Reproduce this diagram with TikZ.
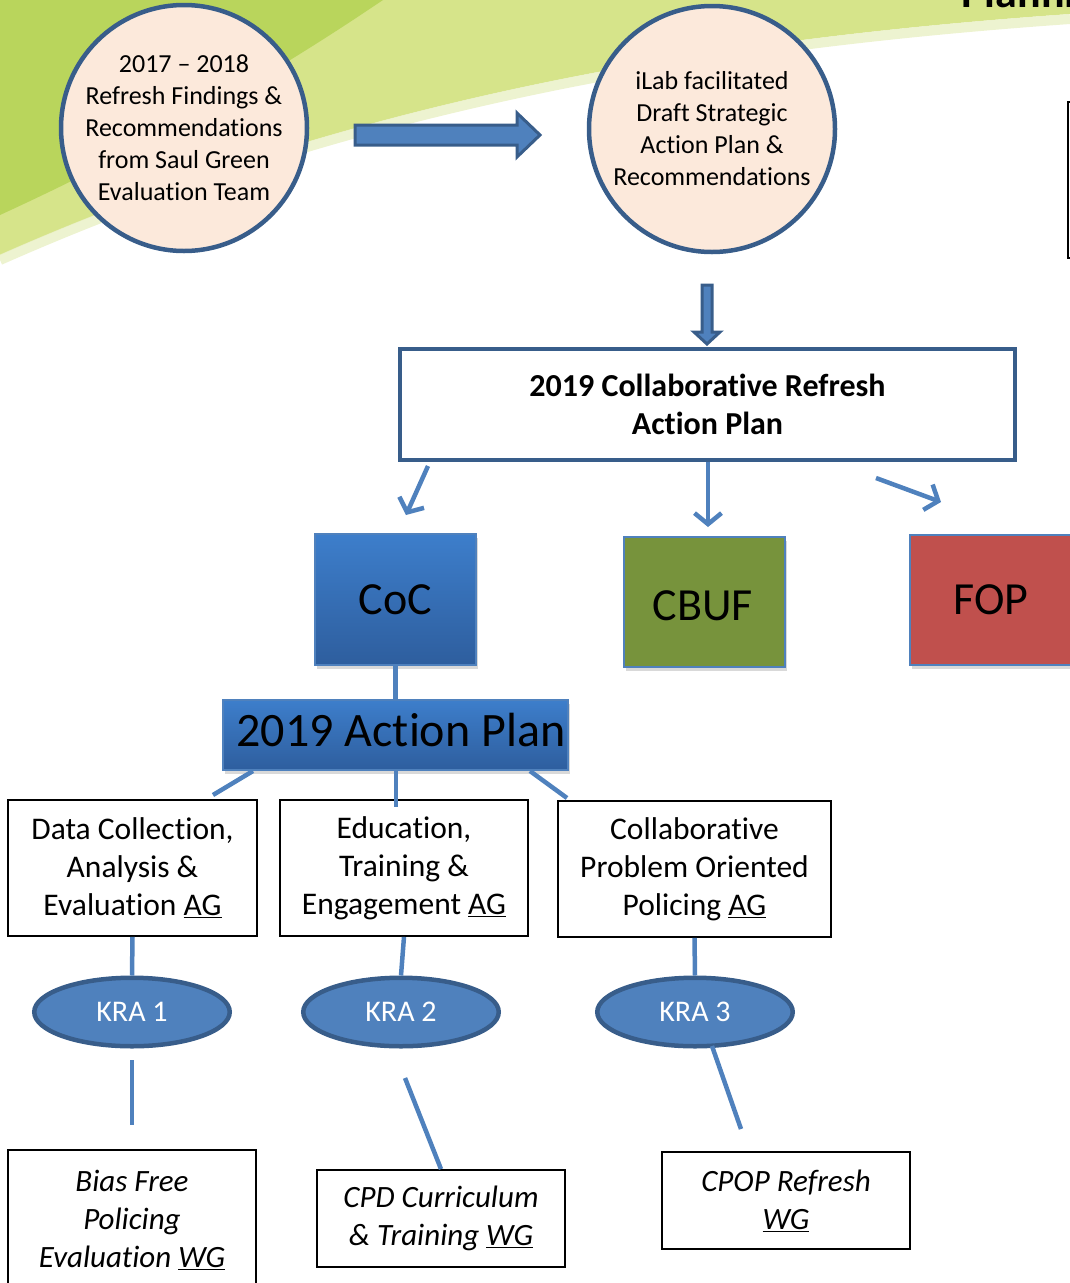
\documentclass[tikz,border=0pt]{standalone}
\usepackage{fontspec}
\setmainfont{Carlito}[Ligatures={TeX,NoCommon}]
\usetikzlibrary{shapes.geometric,arrows.meta,shadows}
\definecolor{dkgreen}{HTML}{B9D55C}
\definecolor{ltgreen}{HTML}{D6E48A}
\definecolor{fadegreen}{HTML}{E9F0C4}
\definecolor{peach}{HTML}{FCE9DB}
\definecolor{edgeblue}{HTML}{385D8A}
\definecolor{midblue}{HTML}{4F81BD}
\definecolor{topblue}{HTML}{3D7ECB}
\definecolor{botblue}{HTML}{2E5E9E}
\definecolor{oliveg}{HTML}{77933C}
\definecolor{brickred}{HTML}{C0504D}
\begin{document}
\begin{tikzpicture}[x=1pt,y=-1pt,
  circ/.style={circle,draw=edgeblue,line width=4.5pt,fill=peach,minimum size=246pt,inner sep=0pt,align=center,font=\fontsize{26}{32}\selectfont},
  blockarrow/.style={fill=midblue,draw=edgeblue,line width=3pt,line join=miter},
  hdbox/.style={rectangle,draw=edgeblue,line width=4pt,fill=white,inner sep=0pt,align=center,font=\bfseries\fontsize{32}{38}\selectfont},
  sqbox/.style={rectangle,draw=midblue,line width=1.5pt,inner sep=0pt,font=\fontsize{46}{50}\selectfont,drop shadow={opacity=0.3,shadow xshift=2pt,shadow yshift=-4pt}},
  agbox/.style={rectangle,draw=black,line width=1.8pt,fill=white,inner sep=0pt,align=center,font=\fontsize{31.5}{38}\selectfont},
  wgbox/.style={agbox,font=\itshape\fontsize{31}{38}\selectfont},
  kra/.style={ellipse,fill=midblue,draw=edgeblue,line width=4.5pt,text=white,inner sep=0pt,minimum width=195.5pt,minimum height=68.5pt,font=\fontsize{30}{34}\selectfont},
  conn/.style={draw=midblue,line width=4.5pt},
  arr/.style={conn,-{Straight Barb[length=11pt,width=27pt]}}
]
\useasboundingbox (0,0) rectangle (1070,1283);
% background swoosh
\fill[ltgreen] (0,0) -- (1070,0) -- (1070,14) .. controls (700,40) and (350,100) .. (0,255) -- cycle;
\draw[fadegreen,line width=10pt,opacity=0.8] (1070,19) .. controls (700,45) and (350,105) .. (0,260);
\fill[dkgreen] (0,0) -- (383,0) .. controls (250,90) and (120,160) .. (0,215) -- cycle;
% partial title and partial box at the right edge
\node[anchor=base west,font=\bfseries\fontsize{44}{48}\selectfont] (title) at (958,7) {Planning};
\draw[black,line width=1.5pt] (1095,102) -- (1068,102) -- (1068,258) -- (1095,258);

% circles
\node[circ] (c1) at (184,128) {2017 -- 2018\\Refresh Findings \&\\Recommendations\\from Saul Green\\Evaluation Team};
\node[circ] (c2) at (712,129) {iLab facilitated\\Draft Strategic\\Action Plan \&\\Recommendations};

% block arrows
\coordinate (a1s) at (355,135);
\filldraw[blockarrow] (a1s) ++(0,-10) -- ++(162,0) -- ++(0,-12) -- ++(23,22) -- ++(-23,22) -- ++(0,-12) -- ++(-162,0) -- cycle;
\coordinate (a2s) at (707,285);
\filldraw[blockarrow] (a2s) ++(-5,0) -- ++(0,47) -- ++(-8,0) -- ++(13,12) -- ++(13,-12) -- ++(-8,0) -- ++(0,-47) -- cycle;

% collaborative refresh box
\node[hdbox,minimum width=615pt,minimum height=111pt] (cr) at (707.5,404.5) {2019 Collaborative Refresh\\Action Plan};

% squares
\node[sqbox,minimum width=161pt,minimum height=131pt,top color=topblue,bottom color=botblue] (coc) at (395.5,599.5) {CoC};
\node[sqbox,minimum width=161pt,minimum height=130pt,fill=oliveg] (cbuf) at (704.5,602) {};
\node[font=\fontsize{46}{50}\selectfont] (cbuft) at (703,606) {CBUF};
\node[sqbox,minimum width=162pt,minimum height=130pt,fill=brickred] (fop) at (991,600) {FOP};

% arrows from collaborative box
\coordinate (l1s) at (428,466); \coordinate (l1e) at (406,515);
\coordinate (m1s) at (708,462); \coordinate (m1e) at (708,527);
\coordinate (r1s) at (876,478); \coordinate (r1e) at (941,502);
\draw[arr] (l1s) -- (l1e);
\draw[arr] (m1s) -- (m1e);
\draw[arr] (r1s) -- (r1e);

% action plan
\node[sqbox,minimum width=345pt,minimum height=70pt,top color=topblue,bottom color=botblue] (ap) at (395.5,735) {};
\node[font=\fontsize{48}{50}\selectfont] (apt) at (401,730) {2019 Action Plan};
\draw[conn] (coc.south) -- (ap.north);

% AG boxes
\node[agbox,minimum width=249pt,minimum height=136pt] (ag1) at (132.5,868) {Data Collection,\\Analysis \&\\Evaluation \underline{AG}};
\node[agbox,minimum width=248pt,minimum height=136pt] (ag2) at (404,868) {Education,\\Training \&\\Engagement \underline{AG}};
\node[agbox,minimum width=273pt,minimum height=136pt] (ag3) at (694.5,869) {Collaborative\\Problem Oriented\\Policing \underline{AG}};

\coordinate (p1s) at (253,771); \coordinate (p1e) at (213,795);
\coordinate (p2s) at (396,770); \coordinate (p2e) at (396,807);
\coordinate (p3s) at (530,771); \coordinate (p3e) at (567,798);
\draw[conn] (p1s) -- (p1e);
\draw[conn] (p2s) -- (p2e);
\draw[conn] (p3s) -- (p3e);

% KRA ellipses
\node[kra] (k1) at (132,1012) {KRA 1};
\node[kra] (k2) at (401,1012) {KRA 2};
\node[kra] (k3) at (695,1012) {KRA 3};
\draw[conn] (ag1.south) -- (k1.north);
\draw[conn] (ag2.south) -- (k2.north);
\draw[conn] (ag3.south) -- (k3.north);

% WG boxes
\node[wgbox,minimum width=248pt,minimum height=140pt] (wg1) at (132,1220) {Bias Free\\Policing\\Evaluation \underline{WG}};
\node[wgbox,minimum width=248pt,minimum height=97pt] (wg2) at (441,1218.5) {CPD Curriculum\\\& Training \underline{WG}};
\node[wgbox,minimum width=248pt,minimum height=97pt] (wg3) at (786,1200.5) {CPOP Refresh\\\underline{WG}};

\coordinate (q1s) at (132,1060); \coordinate (q1e) at (132,1125);
\coordinate (q2s) at (405,1078);
\coordinate (q3s) at (712,1046); \coordinate (q3e) at (741,1129);
\draw[conn] (q1s) -- (q1e);
\draw[conn] (q2s) -- (wg2.north);
\draw[conn] (q3s) -- (q3e);
\end{tikzpicture}
\end{document}
